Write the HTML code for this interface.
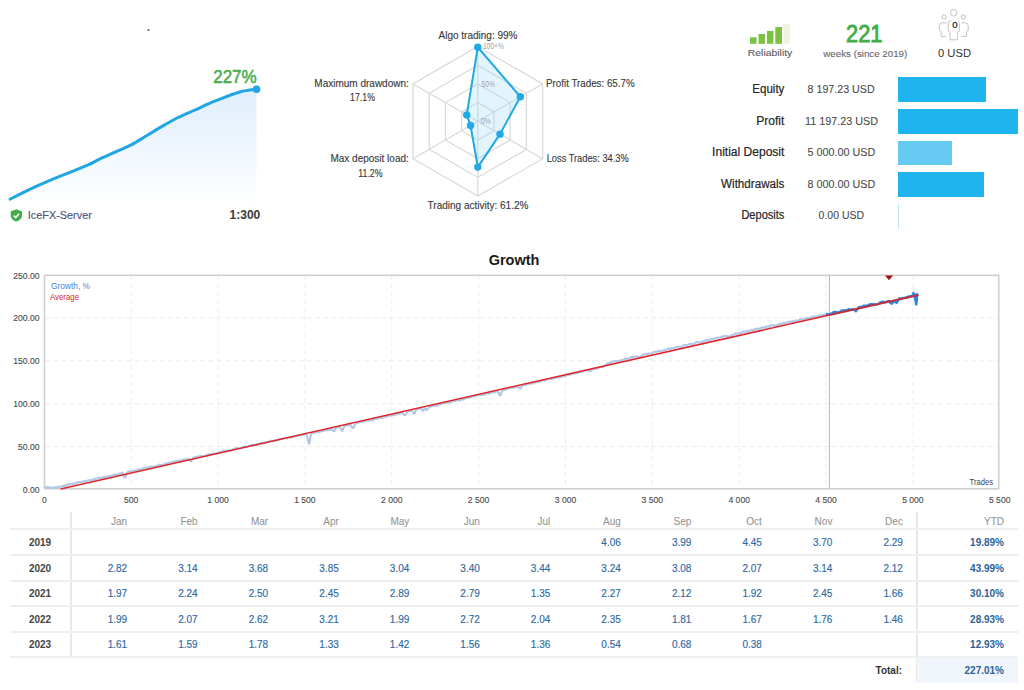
<!DOCTYPE html>
<html><head><meta charset="utf-8"><style>
html,body{margin:0;padding:0;background:#fff;}
body{width:1024px;height:690px;overflow:hidden;position:relative;font-family:"Liberation Sans", sans-serif;}
svg{position:absolute;left:0;top:0;}
svg text{font-family:"Liberation Sans", sans-serif;}
.dash{stroke:#ececec;stroke-width:1;stroke-dasharray:5 3.2;}
.dashv{stroke:#ededed;stroke-width:1;stroke-dasharray:5 3.2;}
.hex{fill:none;stroke:#d9d9d9;stroke-width:1.2;}
.lbl{font-size:10px;fill:#383838;stroke:#383838;stroke-width:0.12px;}
.ax{font-size:8.6px;fill:#4a4a4a;stroke:#4a4a4a;stroke-width:0.12px;}
.th,.td{-webkit-text-stroke:0.15px currentColor;position:absolute;width:60px;text-align:right;font-size:10px;height:25.6px;line-height:25.6px;padding-top:1px;color:#2f6aa3;white-space:nowrap;}
.th{height:17px;line-height:17px;color:#959595;-webkit-text-stroke:0.1px currentColor;}
.td.b{font-weight:bold;color:#2d6299;-webkit-text-stroke:0;}
.yr{position:absolute;left:10px;width:60px;text-align:center;font-size:10px;font-weight:bold;color:#444;height:25.6px;line-height:25.6px;padding-top:1px;}
.hl{position:absolute;left:10px;width:1008px;height:2px;background:#efefef;}
.vl{position:absolute;width:2px;background:#e8e8e8;}
.st{position:absolute;font-size:12px;color:#2a2a2a;text-align:right;width:120px;white-space:nowrap;}
.sv{position:absolute;font-size:11px;color:#444;text-align:center;width:120px;white-space:nowrap;}
.bar{position:absolute;left:898px;background:#1fb4ed;}
</style></head><body>
<svg width="1024" height="690" viewBox="0 0 1024 690">
  <defs>
    <linearGradient id="mg" x1="0" y1="0" x2="0" y2="1">
      <stop offset="0" stop-color="#e0eefc"/>
      <stop offset="1" stop-color="#ffffff"/>
    </linearGradient>
  </defs>
  <rect x="147.5" y="29" width="2" height="2" fill="#6d7c90"/>
  <!-- mini chart -->
  <path d="M10.2,199.2 C12.6,198.0 18.1,194.9 24.6,191.8 C31.1,188.7 41.1,184.2 49.3,180.7 C57.5,177.2 67.3,173.5 73.9,170.8 C80.5,168.1 84.4,166.7 88.7,164.7 C93.0,162.7 95.5,161.0 100,158.9 C104.5,156.8 110.4,154.2 115.6,151.9 C120.8,149.6 126.0,147.5 131.25,144.8 C136.5,142.1 141.7,138.6 146.9,135.5 C152.1,132.4 157.3,129.1 162.5,126.1 C167.7,123.1 172.9,120.1 178.1,117.5 C183.3,114.9 188.5,112.8 193.75,110.5 C199.0,108.2 204.2,105.6 209.4,103.4 C214.6,101.2 219.8,99.2 225,97.2 C230.2,95.2 235.3,93.0 240.6,91.7 C245.8,90.4 253.8,89.6 256.5,89.2 L256.5,206 L10.2,206 Z" fill="url(#mg)" transform="translate(0,0)"/>
  <path d="M10.2,199.2 C12.6,198.0 18.1,194.9 24.6,191.8 C31.1,188.7 41.1,184.2 49.3,180.7 C57.5,177.2 67.3,173.5 73.9,170.8 C80.5,168.1 84.4,166.7 88.7,164.7 C93.0,162.7 95.5,161.0 100,158.9 C104.5,156.8 110.4,154.2 115.6,151.9 C120.8,149.6 126.0,147.5 131.25,144.8 C136.5,142.1 141.7,138.6 146.9,135.5 C152.1,132.4 157.3,129.1 162.5,126.1 C167.7,123.1 172.9,120.1 178.1,117.5 C183.3,114.9 188.5,112.8 193.75,110.5 C199.0,108.2 204.2,105.6 209.4,103.4 C214.6,101.2 219.8,99.2 225,97.2 C230.2,95.2 235.3,93.0 240.6,91.7 C245.8,90.4 253.8,89.6 256.5,89.2" fill="none" stroke="#21a6e3" stroke-width="3" stroke-linecap="round"/>
  <circle cx="256.6" cy="89.2" r="3.8" fill="#21a6e3"/>
  <text x="213.2" y="82.6" font-size="18.7" fill="#4aae4c" stroke="#4aae4c" stroke-width="0.55" textLength="43.5" lengthAdjust="spacingAndGlyphs">227%</text>
  <g transform="translate(10.7,209.3)">
    <path d="M5.65,0 L11.3,2.2 L11.3,6.2 C11.3,9.3 8.6,11.4 5.65,12.3 C2.7,11.4 0,9.3 0,6.2 L0,2.2 Z" fill="#3fae49"/>
    <path d="M3,6.3 L5,8.2 L8.4,4.5" fill="none" stroke="#fff" stroke-width="1.6"/>
  </g>
  <text x="27.8" y="219" font-size="11.3" fill="#4a5580" stroke="#4a5580" stroke-width="0.15" textLength="64" lengthAdjust="spacingAndGlyphs">IceFX-Server</text>
  <text x="260.3" y="219.3" text-anchor="end" font-size="12" font-weight="bold" fill="#3a3a3a">1:300</text>

  <!-- radar -->
  <polygon points="477.80,102.60 493.99,111.95 493.99,130.65 477.80,140.00 461.61,130.65 461.61,111.95" class="hex"/><polygon points="477.80,83.90 510.19,102.60 510.19,140.00 477.80,158.70 445.41,140.00 445.41,102.60" class="hex"/><polygon points="477.80,65.20 526.38,93.25 526.38,149.35 477.80,177.40 429.22,149.35 429.22,93.25" class="hex"/><polygon points="477.80,46.50 542.58,83.90 542.58,158.70 477.80,196.10 413.02,158.70 413.02,83.90" class="hex"/>
  <line x1="477.8" y1="121.3" x2="477.80" y2="46.50" class="hex"/><line x1="477.8" y1="121.3" x2="542.58" y2="83.90" class="hex"/><line x1="477.8" y1="121.3" x2="542.58" y2="158.70" class="hex"/><line x1="477.8" y1="121.3" x2="477.80" y2="196.10" class="hex"/><line x1="477.8" y1="121.3" x2="413.02" y2="158.70" class="hex"/><line x1="477.8" y1="121.3" x2="413.02" y2="83.90" class="hex"/>
  <polygon points="477.80,47.25 520.36,96.73 500.02,134.13 477.80,167.08 470.54,125.49 466.72,114.90" fill="rgba(140,215,245,0.25)" stroke="#1fa9e5" stroke-width="2" stroke-linejoin="round"/>
  <circle cx="477.80" cy="47.25" r="3.7" fill="#1fa9e5"/><circle cx="520.36" cy="96.73" r="3.7" fill="#1fa9e5"/><circle cx="500.02" cy="134.13" r="3.7" fill="#1fa9e5"/><circle cx="477.80" cy="167.08" r="3.7" fill="#1fa9e5"/><circle cx="470.54" cy="125.49" r="3.7" fill="#1fa9e5"/><circle cx="466.72" cy="114.90" r="3.7" fill="#1fa9e5"/>
  <text x="482.9" y="49.3" font-size="8.2" fill="#a3a3a3" textLength="21" lengthAdjust="spacingAndGlyphs">100+%</text>
  <text x="481.6" y="87.1" font-size="8.2" fill="#a3a3a3" textLength="13.4" lengthAdjust="spacingAndGlyphs">50%</text>
  <text x="481" y="124.3" font-size="8.2" fill="#a3a3a3" textLength="10" lengthAdjust="spacingAndGlyphs">0%</text>
  <text class="lbl" x="478" y="38.6" text-anchor="middle">Algo trading: 99%</text>
  <text class="lbl" x="546.1" y="87.4" textLength="88.5" lengthAdjust="spacingAndGlyphs">Profit Trades: 65.7%</text>
  <text class="lbl" x="546.7" y="162" textLength="82" lengthAdjust="spacingAndGlyphs">Loss Trades: 34.3%</text>
  <text class="lbl" x="478" y="209.1" text-anchor="middle">Trading activity: 61.2%</text>
  <text class="lbl" x="408.8" y="87.4" text-anchor="end">Maximum drawdown:</text>
  <text class="lbl" x="350.1" y="101.4" textLength="24.9" lengthAdjust="spacingAndGlyphs">17.1%</text>
  <text class="lbl" x="408.8" y="162" text-anchor="end">Max deposit load:</text>
  <text class="lbl" x="358.3" y="176.6" textLength="24.3" lengthAdjust="spacingAndGlyphs">11.2%</text>

  <!-- reliability -->
  <rect x="750" y="37.3" width="6.6" height="6.5" fill="#7dc142"/>
  <rect x="758.5" y="34" width="6.6" height="9.8" fill="#7dc142"/>
  <rect x="767" y="31" width="6.4" height="12.8" fill="#7dc142"/>
  <rect x="775.3" y="27.1" width="6.7" height="16.7" fill="#7dc142"/>
  <rect x="783.4" y="24" width="6.6" height="19.8" fill="#eef3e2"/>
  <text x="747.8" y="56.2" font-size="9.6" fill="#5e5e5e" stroke="#5e5e5e" stroke-width="0.12" textLength="44.5" lengthAdjust="spacingAndGlyphs">Reliability</text>
  <text x="846" y="41.9" font-size="23.2" fill="#3fae49" stroke="#3fae49" stroke-width="0.85" textLength="36.4" lengthAdjust="spacingAndGlyphs">221</text>
  <text x="823.3" y="57" font-size="9.7" fill="#656565" stroke="#656565" stroke-width="0.1" textLength="84" lengthAdjust="spacingAndGlyphs">weeks (since 2019)</text>
  <!-- people icon -->
  <g fill="none" stroke="#c3c3c3" stroke-width="1">
    <circle cx="953.7" cy="12.8" r="3.3"/>
    <circle cx="944.2" cy="17" r="2.2"/>
    <circle cx="963.3" cy="17" r="2.2"/>
    <path d="M950.2,39.8 L949.8,31.8 L948.2,31 L948.2,23.6 Q948.2,20.6 951.2,20.6 L956.4,20.6 Q959.4,20.6 959.4,23.6 L959.4,31 L957.8,31.8 L957.4,39.8 Z"/>
    <path d="M946.6,22.8 L942.2,22.8 Q939.4,22.8 939.4,25.6 L939.4,30.6 L940.9,31.3 L941.3,36.4 L946.4,36.4"/>
    <path d="M961,22.8 L965.4,22.8 Q968.2,22.8 968.2,25.6 L968.2,30.6 L966.7,31.3 L966.3,36.4 L961.2,36.4"/>
  </g>
  <rect x="951.3" y="20" width="7" height="8.6" fill="#fff"/><text x="954.8" y="28" text-anchor="middle" font-size="9.6" fill="#2e2e2e" stroke="#2e2e2e" stroke-width="0.3">0</text>
  <text x="938" y="57.2" font-size="11.6" fill="#333" textLength="33" lengthAdjust="spacingAndGlyphs">0 USD</text>

  <!-- growth chart -->
  <text x="514" y="265.2" text-anchor="middle" font-size="14.5" font-weight="bold" fill="#1a1a1a">Growth</text>
  <line x1="44.5" y1="317.9" x2="998.5" y2="317.9" class="dash"/><line x1="44.5" y1="360.8" x2="998.5" y2="360.8" class="dash"/><line x1="44.5" y1="403.7" x2="998.5" y2="403.7" class="dash"/><line x1="44.5" y1="446.6" x2="998.5" y2="446.6" class="dash"/><line x1="131.2" y1="275" x2="131.2" y2="489" class="dashv"/><line x1="218.1" y1="275" x2="218.1" y2="489" class="dashv"/><line x1="304.9" y1="275" x2="304.9" y2="489" class="dashv"/><line x1="391.8" y1="275" x2="391.8" y2="489" class="dashv"/><line x1="478.6" y1="275" x2="478.6" y2="489" class="dashv"/><line x1="565.5" y1="275" x2="565.5" y2="489" class="dashv"/><line x1="652.3" y1="275" x2="652.3" y2="489" class="dashv"/><line x1="739.2" y1="275" x2="739.2" y2="489" class="dashv"/><line x1="826.0" y1="275" x2="826.0" y2="489" class="dashv"/><line x1="912.9" y1="275" x2="912.9" y2="489" class="dashv"/>
  <line x1="829.4" y1="275" x2="829.4" y2="489.5" stroke="#b5b5b5" stroke-width="1"/>
  <rect x="44.5" y="275.3" width="954.2" height="213.5" fill="none" stroke="#cfcfcf" stroke-width="1.6"/>
  <path d="M44.4,487.3 L45.4,487.1 L46.4,487.7 L47.4,487.0 L48.4,487.5 L49.4,487.3 L50.4,487.5 L51.4,488.0 L52.4,487.4 L53.4,487.9 L54.4,487.5 L55.4,487.3 L56.4,487.4 L57.4,487.7 L58.4,486.6 L59.4,486.4 L60.4,486.7 L61.4,486.8 L62.4,486.2 L63.4,485.8 L64.4,486.2 L65.4,484.9 L66.4,485.7 L67.4,484.8 L68.4,484.4 L69.4,484.1 L70.4,484.1 L71.4,484.5 L72.4,483.5 L73.4,483.8 L74.4,483.7 L75.4,483.1 L76.4,483.1 L77.4,482.3 L78.4,482.1 L79.4,482.1 L80.4,482.4 L81.4,481.9 L82.4,481.5 L83.4,481.7 L84.4,481.3 L85.4,480.9 L86.4,481.3 L87.4,480.9 L88.4,480.2 L89.4,480.3 L90.4,480.1 L91.4,480.3 L92.4,479.9 L93.4,479.1 L94.4,479.8 L95.4,478.5 L96.4,478.6 L97.4,478.8 L98.4,477.9 L99.4,478.1 L100.4,477.3 L101.4,477.9 L102.4,477.8 L103.4,477.3 L104.4,477.5 L105.4,476.6 L106.4,476.8 L107.4,476.5 L108.4,476.2 L109.4,475.9 L110.4,476.1 L111.4,476.0 L112.4,475.3 L113.4,475.3 L114.4,474.3 L115.4,474.9 L116.4,474.6 L117.4,474.8 L118.4,474.4 L119.4,473.5 L120.4,473.4 L121.4,473.5 L122.4,472.5 L123.4,474.8 L124.4,477.4 L125.4,477.7 L126.4,474.3 L127.4,472.4 L128.4,471.4 L129.4,471.3 L130.4,471.3 L131.4,471.6 L132.4,470.5 L133.4,470.7 L134.4,470.6 L135.4,470.8 L136.4,470.5 L137.4,470.3 L138.4,469.4 L139.4,469.4 L140.4,469.1 L141.4,469.5 L142.4,469.4 L143.4,468.2 L144.4,468.0 L145.4,467.8 L146.4,467.6 L147.4,467.7 L148.4,467.6 L149.4,467.0 L150.4,466.5 L151.4,466.8 L152.4,466.5 L153.4,466.5 L154.4,466.8 L155.4,466.3 L156.4,465.8 L157.4,465.7 L158.4,465.6 L159.4,464.6 L160.4,465.4 L161.4,465.1 L162.4,465.0 L163.4,464.7 L164.4,464.0 L165.4,463.8 L166.4,463.2 L167.4,463.6 L168.4,462.7 L169.4,462.5 L170.4,462.5 L171.4,462.2 L172.4,462.2 L173.4,461.6 L174.4,461.3 L175.4,461.3 L176.4,461.0 L177.4,461.1 L178.4,460.5 L179.4,461.3 L180.4,460.8 L181.4,460.0 L182.4,459.9 L183.4,459.8 L184.4,459.6 L185.4,459.1 L186.4,459.8 L187.4,459.7 L188.4,458.9 L189.4,459.8 L190.4,460.9 L191.4,461.1 L192.4,459.3 L193.4,457.6 L194.4,458.0 L195.4,457.0 L196.4,456.6 L197.4,457.5 L198.4,456.8 L199.4,456.1 L200.4,456.4 L201.4,455.6 L202.4,456.0 L203.4,456.3 L204.4,455.9 L205.4,455.5 L206.4,454.8 L207.4,454.7 L208.4,454.3 L209.4,454.8 L210.4,454.3 L211.4,454.3 L212.4,453.6 L213.4,453.2 L214.4,453.7 L215.4,453.7 L216.4,453.4 L217.4,453.1 L218.4,452.9 L219.4,452.6 L220.4,451.8 L221.4,451.9 L222.4,451.5 L223.4,450.9 L224.4,450.7 L225.4,450.8 L226.4,450.5 L227.4,450.8 L228.4,450.9 L229.4,450.1 L230.4,450.5 L231.4,450.3 L232.4,450.1 L233.4,449.1 L234.4,448.8 L235.4,448.6 L236.4,448.3 L237.4,448.1 L238.4,448.4 L239.4,448.5 L240.4,448.2 L241.4,447.6 L242.4,447.6 L243.4,447.5 L244.4,446.5 L245.4,446.9 L246.4,447.0 L247.4,446.7 L248.4,446.4 L249.4,445.9 L250.4,445.3 L251.4,445.8 L252.4,445.0 L253.4,445.4 L254.4,445.4 L255.4,444.5 L256.4,444.3 L257.4,444.7 L258.4,444.2 L259.4,443.4 L260.4,443.1 L261.4,442.9 L262.4,443.6 L263.4,443.3 L264.4,442.3 L265.4,442.9 L266.4,442.8 L267.4,442.2 L268.4,441.6 L269.4,441.7 L270.4,441.0 L271.4,440.6 L272.4,441.5 L273.4,440.9 L274.4,440.6 L275.4,440.9 L276.4,440.0 L277.4,440.4 L278.4,440.1 L279.4,439.1 L280.4,439.0 L281.4,438.8 L282.4,438.6 L283.4,438.8 L284.4,438.2 L285.4,438.2 L286.4,437.7 L287.4,438.4 L288.4,437.5 L289.4,437.5 L290.4,437.4 L291.4,437.6 L292.4,436.8 L293.4,437.2 L294.4,436.5 L295.4,436.4 L296.4,436.2 L297.4,435.4 L298.4,435.7 L299.4,435.2 L300.4,434.8 L301.4,435.5 L302.4,434.6 L303.4,434.7 L304.4,434.8 L305.4,434.4 L306.4,434.0 L307.4,437.3 L308.4,442.6 L309.4,443.7 L310.4,437.3 L311.4,433.3 L312.4,432.7 L313.4,432.5 L314.4,432.9 L315.4,432.4 L316.4,432.3 L317.4,432.3 L318.4,432.3 L319.4,431.6 L320.4,431.5 L321.4,431.2 L322.4,431.0 L323.4,431.0 L324.4,430.4 L325.4,430.3 L326.4,430.0 L327.4,430.4 L328.4,429.8 L329.4,429.8 L330.4,429.7 L331.4,428.6 L332.4,429.6 L333.4,431.2 L334.4,431.1 L335.4,428.7 L336.4,427.3 L337.4,427.5 L338.4,426.8 L339.4,426.8 L340.4,427.7 L341.4,430.5 L342.4,430.9 L343.4,428.5 L344.4,425.6 L345.4,426.0 L346.4,425.7 L347.4,424.9 L348.4,425.5 L349.4,425.4 L350.4,424.3 L351.4,426.3 L352.4,427.7 L353.4,428.0 L354.4,426.1 L355.4,423.9 L356.4,422.9 L357.4,423.0 L358.4,422.8 L359.4,422.4 L360.4,422.0 L361.4,421.9 L362.4,422.2 L363.4,421.1 L364.4,421.5 L365.4,421.2 L366.4,420.4 L367.4,420.6 L368.4,420.7 L369.4,420.3 L370.4,419.6 L371.4,420.5 L372.4,420.0 L373.4,420.0 L374.4,418.7 L375.4,418.7 L376.4,418.2 L377.4,418.9 L378.4,418.0 L379.4,417.6 L380.4,417.7 L381.4,418.1 L382.4,417.8 L383.4,416.9 L384.4,416.5 L385.4,417.2 L386.4,416.6 L387.4,416.5 L388.4,415.5 L389.4,415.3 L390.4,415.8 L391.4,415.3 L392.4,414.6 L393.4,415.4 L394.4,414.8 L395.4,414.8 L396.4,413.7 L397.4,414.4 L398.4,413.2 L399.4,414.0 L400.4,413.3 L401.4,412.9 L402.4,412.9 L403.4,414.2 L404.4,415.0 L405.4,415.0 L406.4,413.4 L407.4,411.4 L408.4,411.0 L409.4,410.9 L410.4,410.5 L411.4,410.5 L412.4,411.5 L413.4,413.0 L414.4,413.7 L415.4,411.1 L416.4,409.7 L417.4,409.1 L418.4,409.1 L419.4,408.4 L420.4,408.5 L421.4,408.8 L422.4,410.8 L423.4,410.6 L424.4,408.6 L425.4,408.4 L426.4,410.1 L427.4,409.2 L428.4,408.5 L429.4,406.7 L430.4,406.5 L431.4,406.7 L432.4,405.9 L433.4,405.9 L434.4,405.8 L435.4,406.0 L436.4,405.0 L437.4,405.3 L438.4,405.0 L439.4,404.7 L440.4,404.2 L441.4,403.9 L442.4,403.3 L443.4,403.1 L444.4,402.8 L445.4,403.4 L446.4,402.6 L447.4,402.3 L448.4,402.0 L449.4,402.6 L450.4,402.4 L451.4,402.0 L452.4,401.3 L453.4,401.0 L454.4,400.8 L455.4,400.8 L456.4,400.2 L457.4,400.3 L458.4,399.9 L459.4,400.5 L460.4,400.3 L461.4,399.5 L462.4,398.9 L463.4,399.6 L464.4,398.6 L465.4,398.4 L466.4,397.7 L467.4,398.0 L468.4,397.8 L469.4,397.6 L470.4,397.0 L471.4,397.2 L472.4,396.4 L473.4,396.4 L474.4,396.0 L475.4,396.1 L476.4,395.5 L477.4,395.2 L478.4,395.3 L479.4,395.0 L480.4,395.2 L481.4,394.9 L482.4,394.9 L483.4,394.6 L484.4,394.4 L485.4,394.4 L486.4,393.6 L487.4,393.3 L488.4,393.9 L489.4,392.6 L490.4,393.1 L491.4,392.8 L492.4,391.8 L493.4,392.5 L494.4,392.4 L495.4,391.8 L496.4,391.7 L497.4,391.6 L498.4,392.2 L499.4,395.1 L500.4,395.4 L501.4,392.9 L502.4,390.4 L503.4,390.2 L504.4,389.7 L505.4,389.8 L506.4,389.4 L507.4,389.1 L508.4,388.3 L509.4,387.9 L510.4,387.8 L511.4,387.8 L512.4,387.3 L513.4,387.9 L514.4,387.4 L515.4,387.2 L516.4,387.0 L517.4,386.8 L518.4,387.2 L519.4,387.7 L520.4,388.7 L521.4,387.1 L522.4,385.5 L523.4,385.3 L524.4,385.2 L525.4,384.2 L526.4,384.8 L527.4,384.0 L528.4,383.6 L529.4,383.6 L530.4,383.9 L531.4,383.0 L532.4,383.4 L533.4,383.5 L534.4,382.7 L535.4,382.3 L536.4,382.2 L537.4,382.2 L538.4,382.1 L539.4,381.7 L540.4,381.5 L541.4,380.6 L542.4,380.4 L543.4,380.3 L544.4,380.7 L545.4,379.9 L546.4,380.0 L547.4,379.1 L548.4,379.0 L549.4,379.0 L550.4,379.2 L551.4,379.0 L552.4,378.8 L553.4,378.1 L554.4,378.1 L555.4,377.8 L556.4,377.6 L557.4,377.0 L558.4,377.7 L559.4,376.6 L560.4,377.3 L561.4,377.0 L562.4,375.7 L563.4,376.0 L564.4,376.2 L565.4,376.1 L566.4,375.2 L567.4,374.8 L568.4,374.5 L569.4,375.1 L570.4,374.0 L571.4,374.2 L572.4,373.4 L573.4,373.7 L574.4,373.9 L575.4,372.7 L576.4,373.3 L577.4,372.7 L578.4,372.9 L579.4,372.4 L580.4,371.6 L581.4,372.2 L582.4,371.5 L583.4,370.7 L584.4,370.4 L585.4,370.8 L586.4,370.5 L587.4,370.1 L588.4,370.2 L589.4,371.1 L590.4,371.0 L591.4,370.5 L592.4,368.5 L593.4,369.2 L594.4,369.0 L595.4,367.9 L596.4,368.7 L597.4,368.2 L598.4,368.2 L599.4,367.2 L600.4,367.1 L601.4,366.8 L602.4,367.3 L603.4,366.6 L604.4,365.9 L605.4,365.4 L606.4,364.5 L607.4,363.6 L608.4,363.1 L609.4,363.3 L610.4,362.2 L611.4,362.7 L612.4,361.7 L613.4,361.4 L614.4,361.5 L615.4,360.9 L616.4,360.9 L617.4,361.4 L618.4,361.0 L619.4,360.7 L620.4,360.3 L621.4,360.4 L622.4,360.2 L623.4,359.5 L624.4,359.5 L625.4,358.4 L626.4,359.0 L627.4,358.5 L628.4,358.6 L629.4,358.2 L630.4,357.6 L631.4,357.1 L632.4,357.9 L633.4,356.7 L634.4,356.9 L635.4,356.5 L636.4,356.2 L637.4,356.5 L638.4,357.1 L639.4,356.9 L640.4,357.4 L641.4,355.8 L642.4,355.2 L643.4,354.7 L644.4,354.2 L645.4,354.0 L646.4,353.8 L647.4,354.4 L648.4,353.7 L649.4,353.2 L650.4,353.8 L651.4,353.6 L652.4,352.7 L653.4,352.1 L654.4,352.0 L655.4,351.6 L656.4,351.7 L657.4,351.2 L658.4,351.1 L659.4,350.9 L660.4,351.1 L661.4,351.2 L662.4,350.8 L663.4,350.2 L664.4,350.0 L665.4,349.9 L666.4,349.5 L667.4,349.2 L668.4,348.6 L669.4,348.7 L670.4,349.3 L671.4,348.0 L672.4,348.3 L673.4,348.2 L674.4,348.2 L675.4,347.2 L676.4,347.1 L677.4,346.8 L678.4,346.8 L679.4,346.6 L680.4,347.0 L681.4,346.6 L682.4,346.4 L683.4,345.2 L684.4,344.9 L685.4,345.5 L686.4,345.5 L687.4,344.8 L688.4,344.7 L689.4,343.8 L690.4,344.0 L691.4,344.4 L692.4,344.1 L693.4,343.9 L694.4,343.8 L695.4,342.7 L696.4,342.3 L697.4,342.1 L698.4,342.3 L699.4,342.3 L700.4,342.4 L701.4,341.9 L702.4,341.6 L703.4,341.5 L704.4,340.9 L705.4,340.8 L706.4,339.9 L707.4,340.6 L708.4,339.7 L709.4,340.3 L710.4,339.8 L711.4,339.1 L712.4,338.7 L713.4,338.6 L714.4,338.8 L715.4,338.7 L716.4,337.7 L717.4,337.5 L718.4,337.8 L719.4,337.6 L720.4,337.2 L721.4,336.7 L722.4,337.0 L723.4,336.0 L724.4,336.2 L725.4,336.1 L726.4,336.5 L727.4,335.9 L728.4,336.5 L729.4,336.7 L730.4,336.3 L731.4,335.2 L732.4,335.1 L733.4,334.6 L734.4,333.9 L735.4,333.3 L736.4,333.7 L737.4,333.6 L738.4,333.1 L739.4,332.7 L740.4,332.9 L741.4,333.0 L742.4,332.0 L743.4,331.5 L744.4,331.6 L745.4,331.5 L746.4,331.6 L747.4,330.8 L748.4,331.3 L749.4,331.0 L750.4,330.5 L751.4,329.9 L752.4,330.6 L753.4,329.6 L754.4,329.9 L755.4,329.0 L756.4,328.8 L757.4,329.2 L758.4,328.4 L759.4,329.0 L760.4,328.2 L761.4,327.6 L762.4,327.4 L763.4,327.5 L764.4,327.5 L765.4,327.7 L766.4,326.5 L767.4,326.6 L768.4,326.2 L769.4,326.9 L770.4,325.6 L771.4,325.3 L772.4,325.1 L773.4,325.3 L774.4,325.7 L775.4,325.5 L776.4,325.1 L777.4,325.2 L778.4,324.9 L779.4,324.0 L780.4,323.6 L781.4,324.3 L782.4,323.8 L783.4,322.8 L784.4,323.3 L785.4,322.8 L786.4,322.6 L787.4,322.3 L788.4,321.9 L789.4,321.5 L790.4,321.6 L791.4,321.5 L792.4,322.0 L793.4,320.8 L794.4,321.6 L795.4,320.5 L796.4,320.4 L797.4,320.8 L798.4,320.6 L799.4,319.9 L800.4,319.2 L801.4,319.5 L802.4,319.2 L803.4,319.6 L804.4,318.5 L805.4,318.5 L806.4,319.0 L807.4,317.7 L808.4,318.0 L809.4,318.2 L810.4,318.0 L811.4,316.9 L812.4,316.7 L813.4,316.5 L814.4,317.3 L815.4,316.3 L816.4,316.7 L817.4,316.6 L818.4,315.8 L819.4,315.5 L820.4,316.1 L821.4,315.5 L822.4,314.8 L823.4,315.2 L824.4,314.5 L825.4,314.2" fill="none" stroke="#b0c7e5" stroke-width="2.1" stroke-linejoin="round"/>
  <path d="M826.0,313.5 L827.5,314.4 L829.0,314.4 L830.5,313.6 L832.0,313.8 L833.5,312.0 L835.0,312.0 L836.5,312.1 L838.0,312.6 L839.5,312.2 L841.0,311.0 L842.5,310.5 L844.0,310.5 L845.5,310.2 L847.0,310.6 L848.5,309.1 L850.0,309.8 L851.5,309.4 L853.0,309.2 L854.5,310.0 L856.0,311.2 L857.5,308.7 L859.0,307.1 L860.5,306.9 L862.0,307.2 L863.5,305.8 L865.0,305.7 L866.5,306.2 L868.0,305.1 L869.5,304.5 L871.0,304.2 L872.5,304.7 L874.0,304.0 L875.5,304.7 L877.0,304.3 L878.5,304.1 L880.0,302.6 L881.5,302.0 L883.0,301.7 L884.5,302.1 L886.0,302.1 L887.5,301.4 L889.0,300.9 L890.5,303.2 L892.0,303.7 L893.5,301.1 L895.0,301.7 L896.5,302.9 L898.0,300.5 L899.5,298.3 L901.0,299.1 L902.5,298.0 L904.0,298.1 L905.5,297.5 L907.0,297.7 L908.5,296.5 L910.0,296.3 L911.5,296.0 L913.0,295.5 L914.5,296.4 L916.0,295.6 L917.5,294.9" fill="none" stroke="#2a86e6" stroke-width="2.4" stroke-linejoin="round"/>
  <path d="M911.8,293.2 L913.8,291.2 L915,293.6 L918.4,293 L918,300 L917.3,305.6 L915.2,305.6 L913.5,297 Z" fill="#2a86e6"/>
  <line x1="60.5" y1="489" x2="829.4" y2="315.07" stroke="#e0242a" stroke-width="1.5"/><line x1="829.4" y1="315.07" x2="918.5" y2="294.9" stroke="#c2303c" stroke-width="2"/>
  <path d="M885,275.6 L893,275.6 L889,280.2 Z" fill="#ad0a0f"/>
  <text x="51" y="289" font-size="8.8" fill="#4b84d0" textLength="39" lengthAdjust="spacingAndGlyphs">Growth, %</text>
  <text x="50" y="300" font-size="8.8" fill="#d02a2a" textLength="29" lengthAdjust="spacingAndGlyphs">Average</text>
  <text x="969.5" y="484.7" font-size="8.6" fill="#444" textLength="23.5" lengthAdjust="spacingAndGlyphs">Trades</text>
  <g class="ax"><text x="39.5" y="278.5" text-anchor="end">250.00</text><text x="39.5" y="321.4" text-anchor="end">200.00</text><text x="39.5" y="364.3" text-anchor="end">150.00</text><text x="39.5" y="407.2" text-anchor="end">100.00</text><text x="39.5" y="450.1" text-anchor="end">50.00</text><text x="39.5" y="493.0" text-anchor="end">0.00</text><text x="44.4" y="502.5" text-anchor="middle">0</text><text x="131.2" y="502.5" text-anchor="middle">500</text><text x="218.1" y="502.5" text-anchor="middle">1 000</text><text x="304.9" y="502.5" text-anchor="middle">1 500</text><text x="391.8" y="502.5" text-anchor="middle">2 000</text><text x="478.6" y="502.5" text-anchor="middle">2 500</text><text x="565.5" y="502.5" text-anchor="middle">3 000</text><text x="652.3" y="502.5" text-anchor="middle">3 500</text><text x="739.2" y="502.5" text-anchor="middle">4 000</text><text x="826.0" y="502.5" text-anchor="middle">4 500</text><text x="912.9" y="502.5" text-anchor="middle">5 000</text><text x="999.7" y="502.5" text-anchor="middle">5 500</text></g>
</svg>

<!-- stats -->
<svg width="1024" height="240" style="position:absolute;left:0;top:0">
<g font-size="12" fill="#262626" stroke="#262626" stroke-width="0.2" text-anchor="end">
<text x="784.4" y="92.8" textLength="32.1" lengthAdjust="spacingAndGlyphs">Equity</text>
<text x="784.4" y="124.7" textLength="28.1" lengthAdjust="spacingAndGlyphs">Profit</text>
<text x="784.4" y="156" textLength="72.3" lengthAdjust="spacingAndGlyphs">Initial Deposit</text>
<text x="784.4" y="188" textLength="63.3" lengthAdjust="spacingAndGlyphs">Withdrawals</text>
<text x="784.4" y="219.3" textLength="43" lengthAdjust="spacingAndGlyphs">Deposits</text>
</g>
<g font-size="11.6" fill="#4a4a4a" stroke="#4a4a4a" stroke-width="0.1">
<text x="807.6" y="92.8" textLength="67" lengthAdjust="spacingAndGlyphs">8 197.23 USD</text>
<text x="805" y="124.7" textLength="73.1" lengthAdjust="spacingAndGlyphs">11 197.23 USD</text>
<text x="807.4" y="156" textLength="67.8" lengthAdjust="spacingAndGlyphs">5 000.00 USD</text>
<text x="807.4" y="188" textLength="67.8" lengthAdjust="spacingAndGlyphs">8 000.00 USD</text>
<text x="818.6" y="219.3" textLength="45.4" lengthAdjust="spacingAndGlyphs">0.00 USD</text>
</g>
</svg>
<div class="bar" style="top:77px;width:88px;height:25px"></div>
<div class="bar" style="top:109px;width:120px;height:25px"></div>
<div class="bar" style="top:141px;width:53.5px;height:24px;background:#66caf3"></div>
<div class="bar" style="top:172px;width:86px;height:25px"></div>
<div class="bar" style="top:204px;width:1px;height:25px;background:#bfe3f5"></div>

<!-- table -->
<div class="vl" style="left:69.5px;top:512px;height:145px"></div>
<div class="vl" style="left:915.5px;top:512px;height:170px"></div>
<div style="position:absolute;left:917px;top:658px;width:101px;height:24.5px;background:#f1f5fc"></div>
<div class="th" style="left:67.2px;top:512px">Jan</div>
<div class="th" style="left:137.7px;top:512px">Feb</div>
<div class="th" style="left:208.2px;top:512px">Mar</div>
<div class="th" style="left:278.8px;top:512px">Apr</div>
<div class="th" style="left:349.3px;top:512px">May</div>
<div class="th" style="left:419.8px;top:512px">Jun</div>
<div class="th" style="left:490.3px;top:512px">Jul</div>
<div class="th" style="left:560.8px;top:512px">Aug</div>
<div class="th" style="left:631.4px;top:512px">Sep</div>
<div class="th" style="left:701.9px;top:512px">Oct</div>
<div class="th" style="left:772.4px;top:512px">Nov</div>
<div class="th" style="left:842.9px;top:512px">Dec</div>
<div class="th" style="left:944px;top:512px">YTD</div>
<div class="hl" style="top:528px"></div>
<div class="yr" style="top:529.0px">2019</div>
<div class="td" style="left:560.8px;top:529.0px">4.06</div>
<div class="td" style="left:631.4px;top:529.0px">3.99</div>
<div class="td" style="left:701.9px;top:529.0px">4.45</div>
<div class="td" style="left:772.4px;top:529.0px">3.70</div>
<div class="td" style="left:842.9px;top:529.0px">2.29</div>
<div class="td b" style="left:944px;top:529.0px">19.89%</div>
<div class="hl" style="top:554px"></div>
<div class="yr" style="top:554.6px">2020</div>
<div class="td" style="left:67.2px;top:554.6px">2.82</div>
<div class="td" style="left:137.7px;top:554.6px">3.14</div>
<div class="td" style="left:208.2px;top:554.6px">3.68</div>
<div class="td" style="left:278.8px;top:554.6px">3.85</div>
<div class="td" style="left:349.3px;top:554.6px">3.04</div>
<div class="td" style="left:419.8px;top:554.6px">3.40</div>
<div class="td" style="left:490.3px;top:554.6px">3.44</div>
<div class="td" style="left:560.8px;top:554.6px">3.24</div>
<div class="td" style="left:631.4px;top:554.6px">3.08</div>
<div class="td" style="left:701.9px;top:554.6px">2.07</div>
<div class="td" style="left:772.4px;top:554.6px">3.14</div>
<div class="td" style="left:842.9px;top:554.6px">2.12</div>
<div class="td b" style="left:944px;top:554.6px">43.99%</div>
<div class="hl" style="top:580px"></div>
<div class="yr" style="top:580.2px">2021</div>
<div class="td" style="left:67.2px;top:580.2px">1.97</div>
<div class="td" style="left:137.7px;top:580.2px">2.24</div>
<div class="td" style="left:208.2px;top:580.2px">2.50</div>
<div class="td" style="left:278.8px;top:580.2px">2.45</div>
<div class="td" style="left:349.3px;top:580.2px">2.89</div>
<div class="td" style="left:419.8px;top:580.2px">2.79</div>
<div class="td" style="left:490.3px;top:580.2px">1.35</div>
<div class="td" style="left:560.8px;top:580.2px">2.27</div>
<div class="td" style="left:631.4px;top:580.2px">2.12</div>
<div class="td" style="left:701.9px;top:580.2px">1.92</div>
<div class="td" style="left:772.4px;top:580.2px">2.45</div>
<div class="td" style="left:842.9px;top:580.2px">1.66</div>
<div class="td b" style="left:944px;top:580.2px">30.10%</div>
<div class="hl" style="top:605px"></div>
<div class="yr" style="top:605.8px">2022</div>
<div class="td" style="left:67.2px;top:605.8px">1.99</div>
<div class="td" style="left:137.7px;top:605.8px">2.07</div>
<div class="td" style="left:208.2px;top:605.8px">2.62</div>
<div class="td" style="left:278.8px;top:605.8px">3.21</div>
<div class="td" style="left:349.3px;top:605.8px">1.99</div>
<div class="td" style="left:419.8px;top:605.8px">2.72</div>
<div class="td" style="left:490.3px;top:605.8px">2.04</div>
<div class="td" style="left:560.8px;top:605.8px">2.35</div>
<div class="td" style="left:631.4px;top:605.8px">1.81</div>
<div class="td" style="left:701.9px;top:605.8px">1.67</div>
<div class="td" style="left:772.4px;top:605.8px">1.76</div>
<div class="td" style="left:842.9px;top:605.8px">1.46</div>
<div class="td b" style="left:944px;top:605.8px">28.93%</div>
<div class="hl" style="top:631px"></div>
<div class="yr" style="top:631.4px">2023</div>
<div class="td" style="left:67.2px;top:631.4px">1.61</div>
<div class="td" style="left:137.7px;top:631.4px">1.59</div>
<div class="td" style="left:208.2px;top:631.4px">1.78</div>
<div class="td" style="left:278.8px;top:631.4px">1.33</div>
<div class="td" style="left:349.3px;top:631.4px">1.42</div>
<div class="td" style="left:419.8px;top:631.4px">1.56</div>
<div class="td" style="left:490.3px;top:631.4px">1.36</div>
<div class="td" style="left:560.8px;top:631.4px">0.54</div>
<div class="td" style="left:631.4px;top:631.4px">0.68</div>
<div class="td" style="left:701.9px;top:631.4px">0.38</div>
<div class="td b" style="left:944px;top:631.4px">12.93%</div>
<div class="hl" style="top:656px"></div>
<div class="td b" style="left:842px;top:657px;color:#333">Total:</div>
<div class="td b" style="left:944px;top:657px">227.01%</div>
</body></html>
